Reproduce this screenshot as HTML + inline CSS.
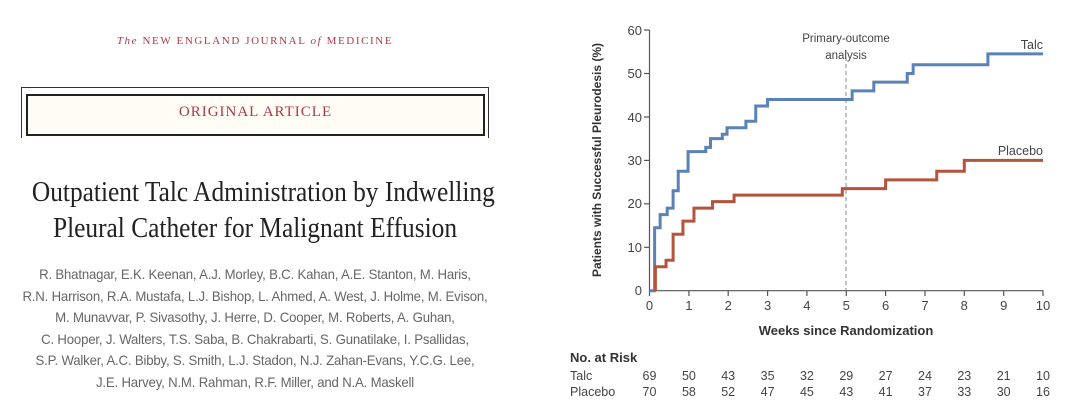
<!DOCTYPE html>
<html><head><meta charset="utf-8"><style>
body{margin:0;background:#fff;width:1080px;height:418px;overflow:hidden;position:relative;font-family:"Liberation Sans",sans-serif}
.a{position:absolute;white-space:nowrap}
</style></head><body>
<div class="a" style="left:0;width:510px;top:35px;text-align:center;font-family:'Liberation Serif',serif;color:#b0384a;font-size:11px;letter-spacing:1.6px"><i>The</i> NEW ENGLAND JOURNAL <i>of</i> MEDICINE</div>
<div class="a" style="left:21px;top:87px;width:466px;height:50px;border-top:1px solid #333;border-left:1px solid #333;border-right:1px solid #333"></div>
<div class="a" style="left:26px;top:94px;width:455px;height:38px;border:2px solid #222;background:#fffdf6"></div>
<div class="a" style="left:26px;width:459px;top:104px;text-align:center;font-family:'Liberation Serif',serif;color:#b0384a;font-size:15px;letter-spacing:1px">ORIGINAL ARTICLE</div>
<div class="a" style="left:0;width:510px;top:174px;text-align:center;font-family:'Liberation Serif',serif;color:#222;font-size:29px;line-height:36px;transform:scaleX(0.875)">Outpatient Talc Administration by Indwelling<br>Pleural Catheter for Malignant Effusion</div>
<div class="a" style="left:0;width:510px;top:264px;text-align:center;color:#666;font-size:14px;line-height:21.6px;letter-spacing:-0.2px;transform:scaleX(0.943)">R. Bhatnagar, E.K. Keenan, A.J. Morley, B.C. Kahan, A.E. Stanton, M. Haris,<br>R.N. Harrison, R.A. Mustafa, L.J. Bishop, L. Ahmed, A. West, J. Holme, M. Evison,<br>M. Munavvar, P. Sivasothy, J. Herre, D. Cooper, M. Roberts, A. Guhan,<br>C. Hooper, J. Walters, T.S. Saba, B. Chakrabarti, S. Gunatilake, I. Psallidas,<br>S.P. Walker, A.C. Bibby, S. Smith, L.J. Stadon, N.J. Zahan-Evans, Y.C.G. Lee,<br>J.E. Harvey, N.M. Rahman, R.F. Miller, and N.A. Maskell</div>
<svg class="a" style="left:0;top:0" width="1080" height="418" font-family="Liberation Sans, sans-serif" fill="#333">
<g stroke="#555" stroke-width="1.2">
<line x1="649.5" y1="30" x2="649.5" y2="291"/><line x1="649" y1="290.7" x2="1043.5" y2="290.7"/>
<g id="yt"><line x1="644" x2="649.5" y1="30" y2="30"/><line x1="644" x2="649.5" y1="73.5" y2="73.5"/><line x1="644" x2="649.5" y1="117" y2="117"/><line x1="644" x2="649.5" y1="160.4" y2="160.4"/><line x1="644" x2="649.5" y1="203.8" y2="203.8"/><line x1="644" x2="649.5" y1="247.3" y2="247.3"/></g>
<path d="M649.5 291v5M688.9 291v5M728.2 291v5M767.6 291v5M806.9 291v5M846.3 291v5M885.6 291v5M925 291v5M964.3 291v5M1003.7 291v5M1043 291v5"/>
</g>
<line x1="846" y1="50" x2="846" y2="290" stroke="#888" stroke-dasharray="4,3"/>
<g font-size="13" text-anchor="end" fill="#444"><text x="642" y="35">60</text><text x="642" y="78">50</text><text x="642" y="122">40</text><text x="642" y="165">30</text><text x="642" y="208">20</text><text x="642" y="252">10</text><text x="642" y="295">0</text></g>
<g font-size="13" text-anchor="middle" fill="#444"><text x="649.5" y="310">0</text><text x="688.9" y="310">1</text><text x="728.2" y="310">2</text><text x="767.6" y="310">3</text><text x="806.9" y="310">4</text><text x="846.3" y="310">5</text><text x="885.6" y="310">6</text><text x="925" y="310">7</text><text x="964.3" y="310">8</text><text x="1003.7" y="310">9</text><text x="1043" y="310">10</text></g>
<text x="846" y="335" font-size="13" font-weight="bold" text-anchor="middle">Weeks since Randomization</text>
<text transform="translate(601,160) rotate(-90)" font-size="12" font-weight="bold" text-anchor="middle">Patients with Successful Pleurodesis (%)</text>
<g font-size="11.5" text-anchor="middle" fill="#444"><text x="846" y="42">Primary-outcome</text><text x="846" y="59">analysis</text></g>
<text x="1043" y="49" font-size="12.5" text-anchor="end" fill="#444">Talc</text>
<text x="1043" y="155" font-size="12.5" text-anchor="end" fill="#444">Placebo</text>
<g transform="translate(649.5,290.7) scale(39.35,-4.345)" fill="none" stroke-width="3" stroke-linejoin="miter">
<path vector-effect="non-scaling-stroke" stroke="#5b82b5" d="M0 0H0.13V14.5H0.27V17.5H0.45V19H0.6V23H0.73V27.5H0.98V32H1.43V33H1.55V35H1.85V36H1.97V37.5H2.45V39H2.7V42.5H3V44H5.15V46H5.7V48H6.55V50H6.7V52H8.6V54.5H10"/>
<path vector-effect="non-scaling-stroke" stroke="#b5533c" d="M0.15 0V5.5H0.42V7H0.6V13H0.85V16H1.13V19H1.6V20.5H2.15V22H4.9V23.5H6V25.5H7.3V27.5H8V30H10"/>
</g>
<text x="570" y="362" font-size="13" font-weight="bold">No. at Risk</text>
<text x="570" y="380" font-size="12.5" fill="#444">Talc</text>
<text x="570" y="396" font-size="12.5" fill="#444">Placebo</text>
<g font-size="12.5" text-anchor="middle" fill="#444">
<text x="649.5" y="380">69</text><text x="688.9" y="380">50</text><text x="728.2" y="380">43</text><text x="767.6" y="380">35</text><text x="806.9" y="380">32</text><text x="846.3" y="380">29</text><text x="885.6" y="380">27</text><text x="925" y="380">24</text><text x="964.3" y="380">23</text><text x="1003.7" y="380">21</text><text x="1043" y="380">10</text>
<text x="649.5" y="396">70</text><text x="688.9" y="396">58</text><text x="728.2" y="396">52</text><text x="767.6" y="396">47</text><text x="806.9" y="396">45</text><text x="846.3" y="396">43</text><text x="885.6" y="396">41</text><text x="925" y="396">37</text><text x="964.3" y="396">33</text><text x="1003.7" y="396">30</text><text x="1043" y="396">16</text>
</g>
</svg>
</body></html>
